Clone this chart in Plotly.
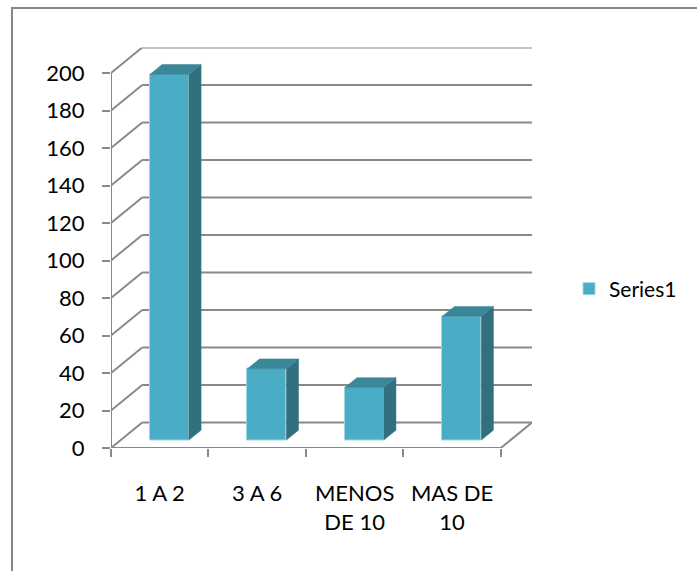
import plotly.graph_objects as go

# Data
categories = ["1 A 2", "3 A 6", "MENOS<br>DE 10", "MAS DE<br>10"]
values = [195, 38, 28, 66]
series_name = "Series1"
y_ticks = list(range(0, 201, 20))

# Pseudo-3D geometry (category units / value units)
DX = 0.32      # depth offset along x
DY = 13.6      # depth offset along y
A, B = 0.31, 0.70   # bar front / back depth fractions
HALF_W = 0.2

FRONT = "#4BACC6"
SIDE = "#31707F"
TOP = "#3A8799"
GRID = "#898989"

fig = go.Figure()

# Front faces as real bars
xs_front = [i + A * DX for i in range(len(values))]
fig.add_trace(go.Bar(
    x=xs_front, y=values, base=[A * DY] * len(values), width=2 * HALF_W,
    marker=dict(color=FRONT, line=dict(color="#9FD6E4", width=1)),
    name=series_name, showlegend=True, hoverinfo="skip",
))

# Side and top faces
for i, v in enumerate(values):
    xl, xr = i - HALF_W, i + HALF_W
    side_x = [xr + A * DX, xr + B * DX, xr + B * DX, xr + A * DX, xr + A * DX]
    side_y = [A * DY, B * DY, v + B * DY, v + A * DY, A * DY]
    fig.add_trace(go.Scatter(x=side_x, y=side_y, fill="toself", mode="lines",
                             fillcolor=SIDE, line=dict(color=SIDE, width=0.5),
                             showlegend=False, hoverinfo="skip"))
    top_x = [xl + A * DX, xr + A * DX, xr + B * DX, xl + B * DX, xl + A * DX]
    top_y = [v + A * DY, v + A * DY, v + B * DY, v + B * DY, v + A * DY]
    fig.add_trace(go.Scatter(x=top_x, y=top_y, fill="toself", mode="lines",
                             fillcolor=TOP, line=dict(color=TOP, width=0.5),
                             showlegend=False, hoverinfo="skip"))

# Walls, floor and gridlines
n = len(categories)
x0, x1 = -0.5, n - 0.5
shapes = []
line = dict(color=GRID, width=2)
for t in y_ticks:
    shapes.append(dict(type="line", xref="x", yref="y", x0=x0 + DX, x1=x1 + DX,
                       y0=t + DY, y1=t + DY, line=line, layer="below"))
    shapes.append(dict(type="line", xref="x", yref="y", x0=x0, x1=x0 + DX,
                       y0=t, y1=t + DY, line=line, layer="below"))
shapes.append(dict(type="line", xref="x", yref="y", x0=x0, x1=x1, y0=0, y1=0,
                   line=line, layer="below"))
shapes.append(dict(type="line", xref="x", yref="y", x0=x1, x1=x1 + DX, y0=0, y1=DY,
                   line=line, layer="below"))
shapes.append(dict(type="line", xref="x", yref="y", x0=x0, x1=x0, y0=0, y1=y_ticks[-1],
                   line=line, layer="below"))
# Chart border
shapes.append(dict(type="rect", xref="paper", yref="paper", x0=12 / 697, x1=1.05,
                   y0=-0.05, y1=1 - 8 / 571, line=dict(color="#868686", width=2)))

W, H = 697, 571
font = dict(family="Lato, Carlito, Calibri, sans-serif", size=22, color="#000000")

fig.update_layout(
    width=W, height=H,
    margin=dict(l=0, r=0, t=0, b=0),
    paper_bgcolor="white", plot_bgcolor="white",
    shapes=shapes,
    font=font,
    bargap=0,
    xaxis=dict(
        domain=[111 / W, 532 / W], range=[x0, x1 + DX],
        tickmode="array", tickvals=list(range(n)), ticktext=categories,
        ticks="", showgrid=False, zeroline=False, showline=False,
        ticklabelstandoff=30, automargin=False,
        minor=dict(tickmode="array", tickvals=[x0 + k for k in range(n + 1)],
                   ticks="outside", ticklen=8, tickwidth=2, tickcolor=GRID,
                   showgrid=False),
        fixedrange=True,
    ),
    yaxis=dict(
        domain=[(H - 448) / H, (H - 47.5) / H], range=[0, y_ticks[-1] + DY],
        tickmode="array", tickvals=y_ticks,
        ticks="outside", ticklen=8, tickwidth=2, tickcolor=GRID,
        showgrid=False, zeroline=False, showline=False,
        ticklabelstandoff=13, automargin=False,
        fixedrange=True,
    ),
    legend=dict(x=569 / W, y=(H - 289) / H, xanchor="left", yanchor="middle",
                font=dict(family=font["family"], size=21, color="#000000"),
                bgcolor="rgba(0,0,0,0)", itemwidth=30),
    showlegend=True,
)

fig.write_html("out.html")
